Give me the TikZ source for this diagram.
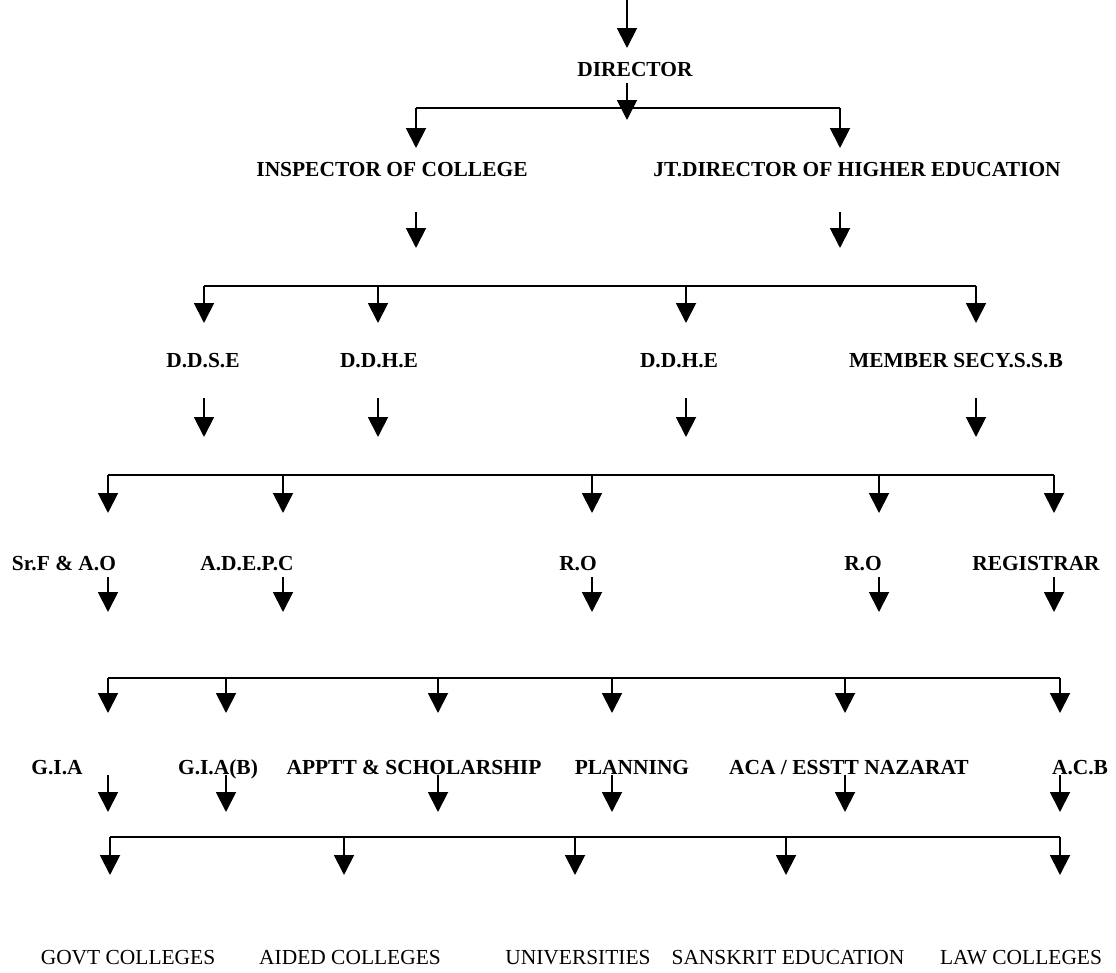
\documentclass[tikz,border=0pt]{standalone}
\usepackage{fontspec}
\setmainfont{Liberation Serif}
\usepackage{tikz}
\usetikzlibrary{arrows.meta}

\begin{document}
\begin{tikzpicture}[
  x = 0.02cm, y = -0.02cm,
  post/.style = {inner sep=0pt, anchor=base, font=\fontsize{12.2}{14}\selectfont\bfseries},
  unit/.style = {inner sep=0pt, anchor=base, font=\fontsize{12.2}{14}\selectfont},
  line/.style = {draw, -{Triangle[width=0.4cm, length=0.4cm]}, line width=1.1pt},
  bus/.style = {draw, line width=1.1pt}
  ]
 \useasboundingbox (0,0) rectangle (1116,973);
 % Director
 \node[post] (director) at (635,77) {DIRECTOR};
 % Inspector and joint director
 \node[post] (inspector) at (392,177) {INSPECTOR OF COLLEGE};
 \node[post] (jtdirector) at (857,177) {JT.DIRECTOR OF HIGHER EDUCATION};
 % Deputy directors
 \node[post] (ddse) at (203,367) {D.D.S.E};
 \node[post] (ddhe1) at (379,367) {D.D.H.E};
 \node[post] (ddhe2) at (679,367) {D.D.H.E};
 \node[post] (secyssb) at (956,367) {MEMBER SECY.S.S.B};
 % Officers
 \node[post] (sfao) at (64,570) {Sr.F \& A.O};
 \node[post] (adepc) at (247,570) {A.D.E.P.C};
 \node[post] (ro1) at (578,570) {R.O};
 \node[post] (ro2) at (863,570) {R.O};
 \node[post] (registrar) at (1036,570) {REGISTRAR};
 % Sections
 \node[post] (gia) at (57,774) {G.I.A};
 \node[post] (giab) at (218,774) {G.I.A(B)};
 \node[post] (apptt) at (414,774) {APPTT \& SCHOLARSHIP};
 \node[post] (planning) at (632,774) {PLANNING};
 \node[post] (nazarat) at (849,774) {ACA / ESSTT NAZARAT};
 \node[post] (acb) at (1080,774) {A.C.B};
 % Institutions
 \node[unit] (govt) at (128,964) {GOVT COLLEGES};
 \node[unit] (aided) at (350,964) {AIDED COLLEGES};
 \node[unit] (univ) at (578,964) {UNIVERSITIES};
 \node[unit] (sanskrit) at (788,964) {SANSKRIT EDUCATION};
 \node[unit] (law) at (1021,964) {LAW COLLEGES};
 % Levels: bus, arrow tips, drop start, drop end
 \coordinate (bus1) at (0,108); \coordinate (tip1) at (0,148);
 \coordinate (drop1) at (0,212); \coordinate (end1) at (0,248);
 \coordinate (bus2) at (0,286); \coordinate (tip2) at (0,323);
 \coordinate (drop2) at (0,398); \coordinate (end2) at (0,437);
 \coordinate (bus3) at (0,475); \coordinate (tip3) at (0,513);
 \coordinate (drop3) at (0,577); \coordinate (end3) at (0,612);
 \coordinate (bus4) at (0,678); \coordinate (tip4) at (0,713);
 \coordinate (drop4) at (0,775); \coordinate (end4) at (0,812);
 \coordinate (bus5) at (0,837); \coordinate (tip5) at (0,875);
 % Columns
 \foreach \lv/\cols in {1/{416,840}, 2/{204,378,686,976},
   3/{108,283,592,879,1054}, 4/{108,226,438,612,845,1060},
   5/{110,344,575,786,1060}}
   \foreach \x [count=\i] in \cols
     \coordinate (col\lv-\i) at (\x,0);
 % Entry arrows
 \coordinate (entry) at (627,0);
 \coordinate (entry tip) at (627,48);
 \coordinate (director out) at (627,83);
 \coordinate (director tip) at (627,120);
 \draw[line] (entry) -- (entry tip);
 % Arrows
 \foreach \lv/\n in {1/2, 2/4, 3/5, 4/6, 5/5} {
   \draw[bus] (col\lv-1 |- bus\lv) -- (col\lv-\n |- bus\lv);
   \foreach \i in {1,...,\n}
     \draw[line] (col\lv-\i |- bus\lv) -- (col\lv-\i |- tip\lv);
 }
 \foreach \lv/\n in {1/2, 2/4, 3/5, 4/6}
   \foreach \i in {1,...,\n}
     \draw[line] (col\lv-\i |- drop\lv) -- (col\lv-\i |- end\lv);
 \draw[line] (director out) -- (director tip);
\end{tikzpicture}
\end{document}
